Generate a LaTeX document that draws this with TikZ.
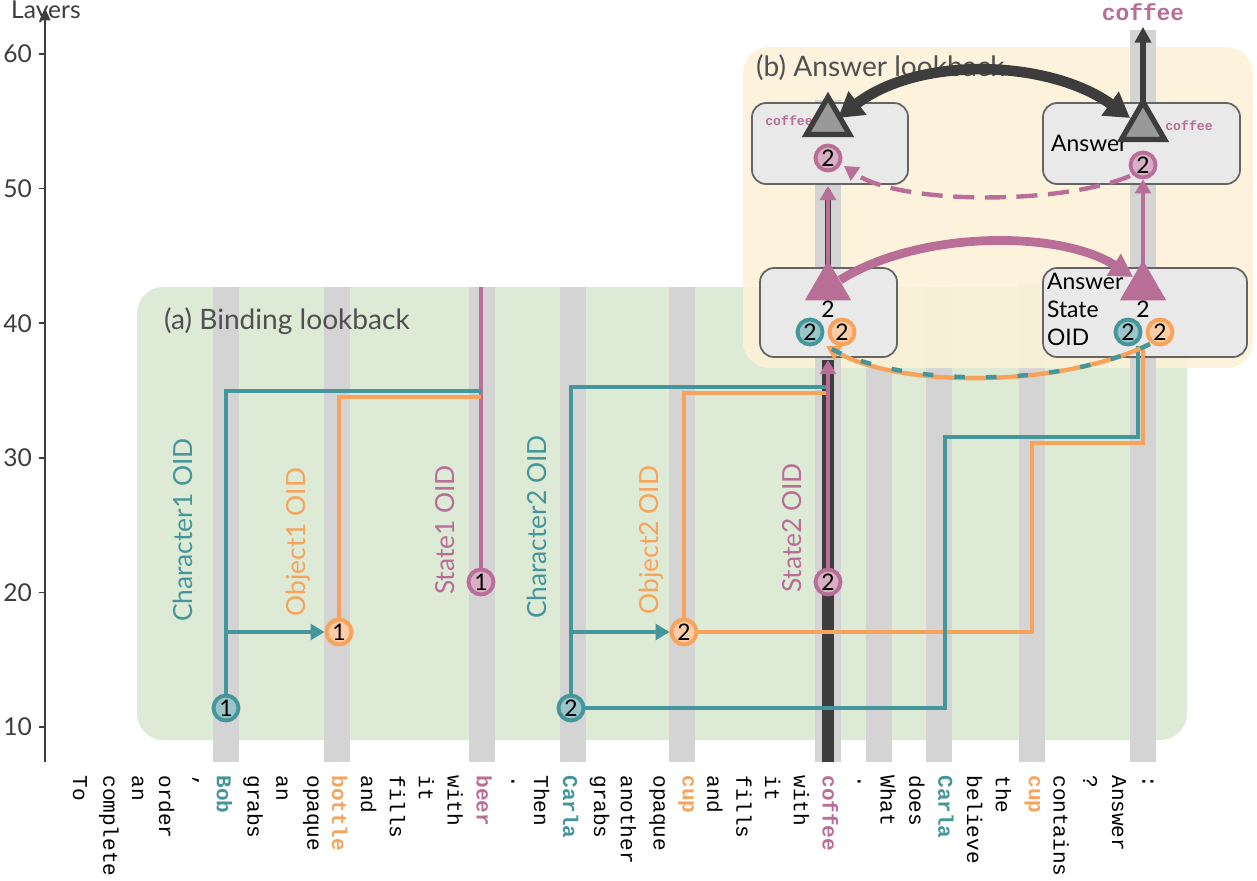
\documentclass[tikz,border=0pt]{standalone}
\usepackage{fontspec}
\setmainfont{Lato}
\setmonofont{Liberation Mono}
\usetikzlibrary{shapes.geometric,arrows.meta}
\definecolor{teal}{HTML}{45969B}
\definecolor{org}{HTML}{F7A35C}
\definecolor{pnk}{HTML}{B86E96}
\definecolor{dk}{HTML}{3D3D3D}
\definecolor{grn}{HTML}{DCEAD6}
\definecolor{ylw}{HTML}{FDF2D8}
\definecolor{col}{HTML}{D4D4D4}
\definecolor{bx}{HTML}{E9E9E9}
\begin{document}
\begin{tikzpicture}[x=0.02cm,y=-0.02cm,
 oid/.style={circle,draw=#1,fill=#1!55!white,line width=2.2pt,inner sep=0pt,minimum size=0.5cm,font=\fontsize{13}{13}\selectfont},
 tri/.style={regular polygon,regular polygon sides=3,fill=pnk,draw=pnk,line width=1pt,inner sep=0pt,minimum size=1.0cm,font=\fontsize{13}{13}\selectfont},
 gtri/.style={regular polygon,regular polygon sides=3,fill=gray!80,draw=dk,line width=3pt,inner sep=0pt,minimum size=1.0cm},
 ln/.style={line width=2.3pt,color=#1},
 arr/.style={line width=2.3pt,color=#1,-{Triangle[length=8pt,width=9pt]}},
 box/.style={draw=dk!80,fill=bx,rounded corners=8pt,line width=1pt},
 lab/.style={rotate=90,font=\fontsize{15}{15}\selectfont,text=#1},
 tok/.style={rotate=-90,anchor=west,font=\ttfamily\fontsize{12}{12}\selectfont,inner sep=0pt},
 col/.style={fill=col}]
\useasboundingbox (0,0) rectangle (1257,880);
% green region
\fill[grn,rounded corners=15pt] (137,287) rectangle (1187,740);
% columns
\foreach \x/\t in {226/287,337/287,482/287,573/287,682/287,879/287,939/287,1032/284}
  \fill[col] (\x-13,\t) rectangle (\x+13,762);
% yellow region
\fill[ylw,opacity=0.9,rounded corners=15pt] (743,47) rectangle (1253,368);
\fill[col] (828-13,100) rectangle (828+13,762);
\fill[col] (1143-13,30) rectangle (1143+13,762);
% axis
\draw[dk,line width=1.3pt,-{Triangle[length=7pt,width=6pt]}] (45,762) -- (45,8);
\node[anchor=west,font=\fontsize{14}{14}\selectfont,text=dk] at (5,12) {Layers};
\foreach \l in {10,20,30,40,50,60}{
  \draw[dk,line width=1pt] (39,{727-(\l-10)*13.46}) -- (45,{727-(\l-10)*13.46});
  \node[anchor=east,font=\fontsize{14}{14}\selectfont,text=dk] at (38,{727-(\l-10)*13.46}) {\l};}
% titles
\node[anchor=west,font=\fontsize{16}{16}\selectfont,text=dk!90] at (158,321) {(a) Binding lookback};
\node[anchor=west,font=\fontsize{16}{16}\selectfont,text=dk!90] at (750,68) {(b) Answer lookback};
% tokens
\foreach [count=\i from 0] \w/\c in {To/black,complete/black,an/black,order/black,{,}/black,Bob/teal,grabs/black,an/black,opaque/black,bottle/org,and/black,fills/black,it/black,with/black,beer/pnk,./black,Then/black,Carla/teal,grabs/black,another/black,opaque/black,cup/org,and/black,fills/black,it/black,with/black,coffee/pnk,./black,What/black,does/black,Carla/teal,believe/black,the/black,cup/org,contains/black,?/black,Answer/black,:/black}{
  \ifx\c\empty\else\fi
  \node[tok,text=\c] at ({80+28.86*\i},775) {\ifnum\pdfstrcmp{\c}{black}=0 \w\else\textbf{\w}\fi};}
% coffee black line
\draw[dk,line width=7pt] (828,762) -- (828,360);
\draw[dk,line width=3pt] (828,270) -- (828,190);
% nodes
\node[oid=teal] (c1) at (226,708) {1};
\node[oid=org] (o1) at (339,632) {1};
\node[oid=pnk] (s1) at (481,582) {1};
\node[oid=teal] (c2) at (571,708) {2};
\node[oid=org] (o2) at (684,632) {2};
\node[oid=pnk] (s2) at (828,582) {2};
% labels
\node[lab=teal] at (183,530) {Character1 OID};
\node[lab=org] at (298,542) {Object1 OID};
\node[lab=pnk] at (445,530) {State1 OID};
\node[lab=teal] at (537,527) {Character2 OID};
\node[lab=org] at (651,540) {Object2 OID};
\node[lab=pnk] at (792,528) {State2 OID};
% binding lines
\coordinate (t1) at (481,391); \coordinate (t2) at (828,387);
\draw[ln=pnk] (s1) -- (481,287);
\draw[ln=teal] (c1) -- (226,391) -- (481,391);
\draw[ln=org] (o1) -- (339,397) -- (481,397);
\draw[arr=teal] (226,632) -- (o1);
\draw[ln=teal] (c2) -- (571,387) -- (828,387);
\draw[ln=org] (o2) -- (684,393) -- (828,393);
\draw[arr=teal] (571,632) -- (o2);
% answer boxes
\draw[box] (752,103) rectangle (908,184);
\draw[box] (1043,103) rectangle (1240,184);
\draw[box] (760,268) rectangle (897,357);
\draw[box] (1043,268) rectangle (1247,357);
\node[anchor=west,font=\fontsize{13}{13}\selectfont] at (1045,143) {Answer};
\node[anchor=north west,align=left,font=\fontsize{13}{16}\selectfont,inner sep=1pt] at (1045,271) {Answer\\State\\OID};
\node[font=\ttfamily\bfseries\fontsize{7.5}{8}\selectfont,text=pnk] at (789,121) {coffee};
\node[font=\ttfamily\bfseries\fontsize{7.5}{8}\selectfont,text=pnk] at (1189,126) {coffee};
\node[font=\ttfamily\bfseries\fontsize{13}{13}\selectfont,text=pnk] (top) at (1143,12) {coffee};
% answer nodes
\node[tri,label={[font=\fontsize{13}{13}\selectfont,yshift=-0.45cm]center:2}] (pl) at (828,287) {};
\node[tri,label={[font=\fontsize{13}{13}\selectfont,yshift=-0.45cm]center:2}] (pr) at (1143,287) {};
\node[gtri] (gl) at (828,122) {};
\node[gtri] (gr) at (1143,127) {};
\node[oid=pnk] (ql) at (828,158) {2};
\node[oid=pnk] (qr) at (1143,165) {2};
\node[oid=teal] (bl1) at (810,332) {2};
\node[oid=org] (bl2) at (842,332) {2};
\node[oid=teal] (br1) at (1128,332) {2};
\node[oid=org] (br2) at (1160,332) {2};
% right lines
\draw[ln=org] (o2) -- (1032,632) -- (1032,443) -- (1143,443) -- (1143,346);
\draw[ln=teal] (c2) -- (945,708) -- (945,437) -- (1138,437) -- (1138,346);
% vertical arrows
\draw[arr=pnk] (s2) -- (828,360);
\draw[arr=pnk] (828,272) -- (828,186);
\draw[arr=pnk] (1143,267) -- (qr);
\draw[line width=3pt,dk,-{Triangle[length=9pt,width=9pt]}] (1143,103) -- (top);
% curved arrows
\draw[line width=6pt,dk,{Triangle[length=14pt,width=16pt]}-{Triangle[length=14pt,width=16pt]}] (838,118) .. controls (920,55) and (1050,60) .. (1130,118);
\draw[line width=5pt,pnk,-{Triangle[length=13pt,width=14pt]}] (840,280) .. controls (920,230) and (1060,230) .. (1133,277);
\draw[line width=2.5pt,pnk,dash pattern=on 12pt off 6pt,-{Triangle[length=8pt,width=9pt]}] (1130,176) .. controls (1060,205) and (900,205) .. (844,166);
\draw[line width=2.5pt,org,-{Triangle[length=8pt,width=9pt]}] (1150,344) .. controls (1060,388) and (900,388) .. (826,346);
\draw[line width=2.5pt,teal,dash pattern=on 6pt off 12pt] (1150,344) .. controls (1060,388) and (900,388) .. (826,346);
\end{tikzpicture}
\end{document}
